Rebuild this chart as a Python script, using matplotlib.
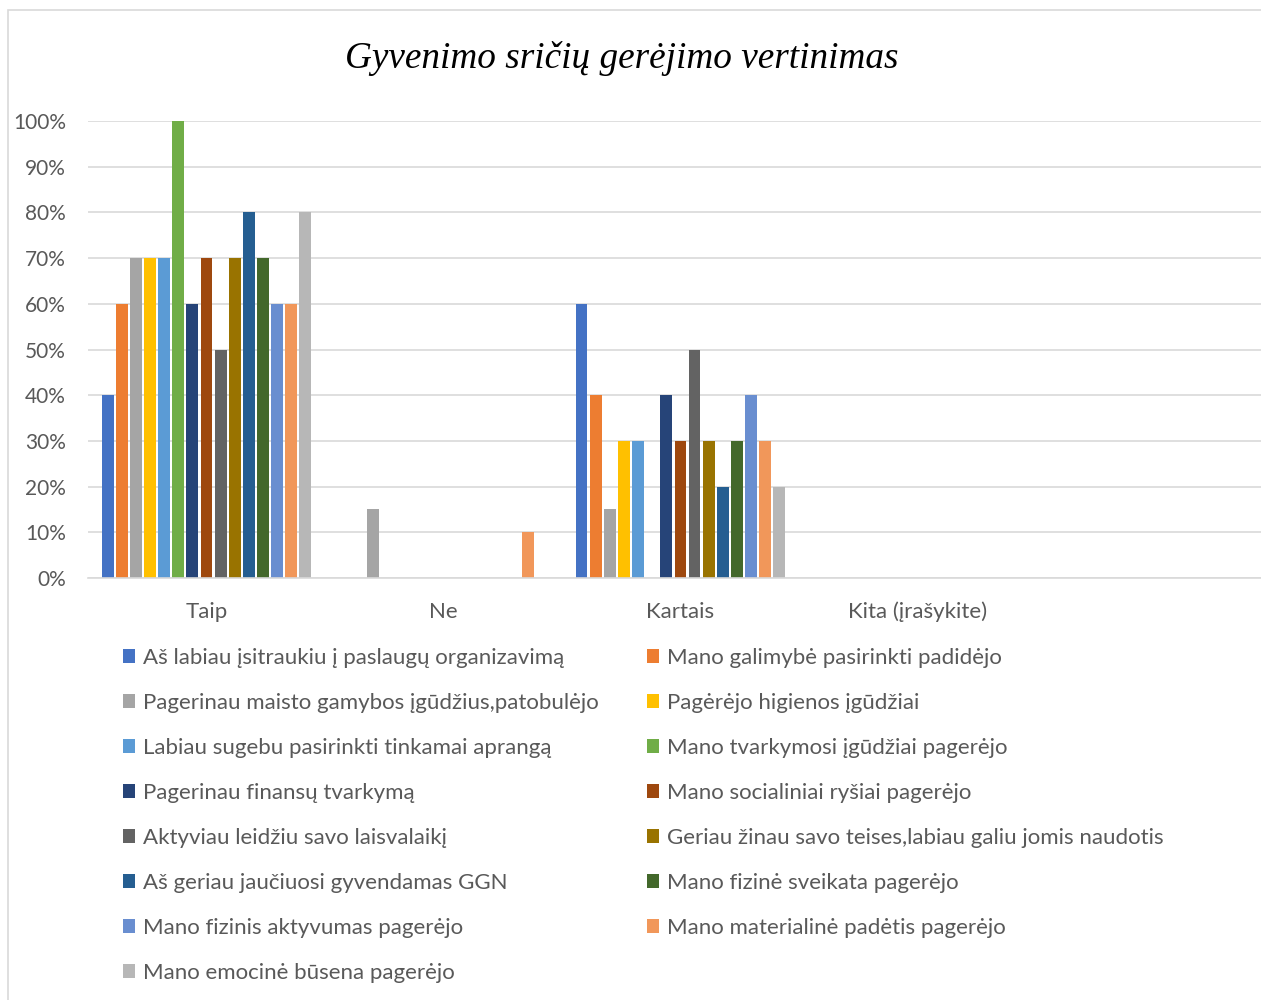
import matplotlib
matplotlib.use("Agg")
import matplotlib.pyplot as plt
from matplotlib.patches import Patch, Rectangle
import numpy as np

plt.rcParams['font.family'] = ['Lato', 'DejaVu Sans']

title = "Gyvenimo sričių gerėjimo vertinimas"
categories = ["Taip", "Ne", "Kartais", "Kita (įrašykite)"]

series_names = [
    "Aš labiau įsitraukiu į paslaugų organizavimą",
    "Mano galimybė pasirinkti padidėjo",
    "Pagerinau maisto gamybos įgūdžius,patobulėjo",
    "Pagėrėjo higienos įgūdžiai",
    "Labiau sugebu pasirinkti tinkamai aprangą",
    "Mano tvarkymosi įgūdžiai pagerėjo",
    "Pagerinau finansų tvarkymą",
    "Mano socialiniai ryšiai pagerėjo",
    "Aktyviau leidžiu savo laisvalaikį",
    "Geriau žinau savo teises,labiau galiu jomis naudotis",
    "Aš geriau jaučiuosi gyvendamas GGN",
    "Mano fizinė sveikata pagerėjo",
    "Mano fizinis aktyvumas pagerėjo",
    "Mano materialinė padėtis pagerėjo",
    "Mano emocinė būsena pagerėjo",
]

# values per category (fractions): Taip, Ne, Kartais, Kita
taip    = [0.40, 0.60, 0.70, 0.70, 0.70, 1.00, 0.60, 0.70, 0.50, 0.70, 0.80, 0.70, 0.60, 0.60, 0.80]
ne      = [0.00, 0.00, 0.15, 0.00, 0.00, 0.00, 0.00, 0.00, 0.00, 0.00, 0.00, 0.00, 0.00, 0.10, 0.00]
kartais = [0.60, 0.40, 0.15, 0.30, 0.30, 0.00, 0.40, 0.30, 0.50, 0.30, 0.20, 0.30, 0.40, 0.30, 0.20]
kita    = [0.00] * 15

colors = ["#4472C4", "#ED7D31", "#A5A5A5", "#FFC000", "#5B9BD5", "#70AD47",
          "#264478", "#9E480E", "#636363", "#997300", "#255E91", "#43682B",
          "#698ED0", "#F1975A", "#B7B7B7"]

values = np.array([taip, ne, kartais, kita]).T  # shape: series x categories

fig = plt.figure(figsize=(12.61, 10.0), dpi=100)
ax = fig.add_axes([88 / 1261, 1 - 578 / 1000, 1 - 88 / 1261, (578 - 121) / 1000])

n = len(series_names)
slot = 0.0596
width = 0.050
x = np.arange(len(categories))
handles = []
for k in range(n):
    off = (k - (n - 1) / 2) * slot
    ax.bar(x + off, values[k], width=width, color=colors[k], edgecolor="none", zorder=3)
    handles.append(Patch(facecolor=colors[k], edgecolor="none", label=series_names[k]))

ax.set_xlim(-0.5, 4.45)
ax.set_ylim(0, 1.0)
ax.set_yticks(np.arange(0, 1.01, 0.1))
ax.set_yticklabels([f"{int(round(v * 100))}%" for v in np.arange(0, 1.01, 0.1)])
ax.set_xticks(x)
ax.set_xticklabels(categories)
ax.tick_params(axis="both", length=0, colors="#595959")
ax.tick_params(axis="y", pad=16, labelsize=15)
ax.tick_params(axis="x", pad=17, labelsize=16)
ax.grid(axis="y", color="#D9D9D9", linewidth=1.2, zorder=0)
ax.set_axisbelow(True)
for s in ["top", "right", "left"]:
    ax.spines[s].set_visible(False)
ax.spines["bottom"].set_color("#D9D9D9")
ax.spines["bottom"].set_linewidth(1.2)
ax.spines["bottom"].set_zorder(4)

# chart frame
fig.patches.append(Rectangle((8 / 1261, -0.05), 1.1, 1.05 - 10 / 1000, transform=fig.transFigure,
                             fill=False, edgecolor="#D9D9D9", linewidth=1.2))

fig.text(622 / 1261, 1 - 58 / 1000, title, ha="center", va="center",
         fontsize=26.8, style="italic", family=["Liberation Serif", "DejaVu Serif"], color="black")

# legend: two columns, filled row by row
left_h = handles[0::2]
right_h = handles[1::2]
common = dict(frameon=False, fontsize=16, handlelength=0.56, handleheight=0.56,
              handletextpad=0.32, labelspacing=1.125, borderpad=0, borderaxespad=0,
              labelcolor="#595959")
leg1 = fig.legend(handles=left_h, loc="upper left", bbox_to_anchor=(123 / 1261, 1 - 648 / 1000), **common)
leg2 = fig.legend(handles=right_h, loc="upper left", bbox_to_anchor=(647 / 1261, 1 - 648 / 1000), **common)

fig.savefig("out.png", dpi=100, facecolor="white")
